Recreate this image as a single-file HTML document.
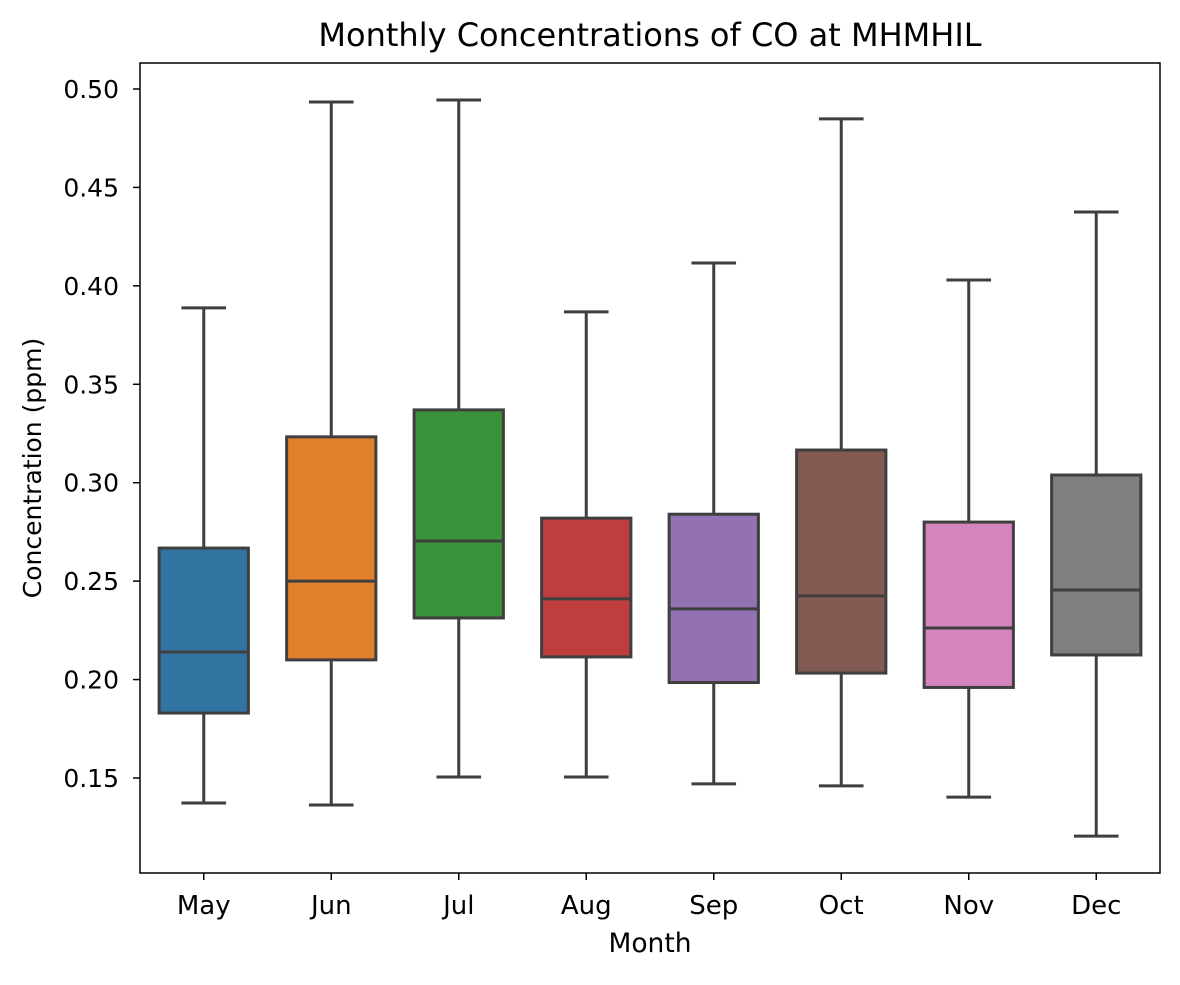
<!DOCTYPE html>
<html><head><meta charset="utf-8"><style>
body{margin:0;background:#fff;}
svg text{font-family:"DejaVu Sans","Liberation Sans",sans-serif;fill:#000;}
</style></head><body>
<svg width="1180" height="980" viewBox="0 0 1180 980">
<rect width="1180" height="980" fill="#fff"/>
<g id="marks"></g>
<rect x="140" y="63" width="1020" height="810" fill="none" stroke="#000" stroke-width="1.5"/>
<g id="axes"></g>
<text x="650" y="46" font-size="32" text-anchor="middle">Monthly Concentrations of CO at MHMHIL</text>
<text x="650" y="952" font-size="26.5" text-anchor="middle">Month</text>
<text transform="translate(41,468) rotate(-90)" font-size="25" text-anchor="middle">Concentration (ppm)</text>
</svg>
<script>
const months=["May","Jun","Jul","Aug","Sep","Oct","Nov","Dec"];
const whiskerLow=[0.1373,0.1363,0.1505,0.1505,0.147,0.146,0.1403,0.1205];
const q1=[0.183,0.210,0.2313,0.2115,0.1985,0.2033,0.196,0.2125];
const median=[0.214,0.250,0.2704,0.241,0.2359,0.2425,0.2262,0.2455];
const q3=[0.2668,0.3233,0.337,0.282,0.284,0.3166,0.280,0.3039];
const whiskerHigh=[0.3888,0.4934,0.4944,0.3868,0.4116,0.4848,0.403,0.4375];
const yTicks=[0.15,0.20,0.25,0.30,0.35,0.40,0.45,0.50];
const colors=["#3274a1","#e1812c","#3a923a","#c03d3e","#9372b2","#845b53","#d684bd","#7f7f7f"];
const NS="http://www.w3.org/2000/svg";
function yScale(v){return 778-(v-0.15)*(689/0.35);}
function xScale(i){return 140+1020/months.length*(i+0.5);}
const marks=document.getElementById('marks'),axes=document.getElementById('axes');
function mk(tag,attrs,parent){const e=document.createElementNS(NS,tag);for(const k in attrs)e.setAttribute(k,attrs[k]);parent.appendChild(e);return e;}
const bw=1020/months.length*0.7,cw=bw/2,lc="#3f3f3f",lw=3;
months.forEach((m,i)=>{
  const cx=xScale(i);
  const g=mk('g',{},marks);
  
  
  const w1=mk('line',{x1:cx,x2:cx,y1:yScale(whiskerLow[i]),y2:yScale(q1[i]),stroke:lc,'stroke-width':lw},g);
  
  
  const w2=mk('line',{x1:cx,x2:cx,y1:yScale(q3[i]),y2:yScale(whiskerHigh[i]),stroke:lc,'stroke-width':lw},g);
  
  
  const c1=mk('line',{x1:cx-cw/2,x2:cx+cw/2,y1:yScale(whiskerLow[i]),y2:yScale(whiskerLow[i]),stroke:lc,'stroke-width':lw},g);
  
  
  const c2=mk('line',{x1:cx-cw/2,x2:cx+cw/2,y1:yScale(whiskerHigh[i]),y2:yScale(whiskerHigh[i]),stroke:lc,'stroke-width':lw},g);
  
  
  const r=mk('rect',{x:cx-bw/2,y:yScale(q3[i]),width:bw,height:yScale(q1[i])-yScale(q3[i]),fill:colors[i],stroke:lc,'stroke-width':lw},g);
  
  
  const md=mk('line',{x1:cx-bw/2,x2:cx+bw/2,y1:yScale(median[i]),y2:yScale(median[i]),stroke:lc,'stroke-width':lw},g);
  
  
  const t=mk('line',{x1:cx,x2:cx,y1:873,y2:880,stroke:'#000','stroke-width':1.5},axes);
  
  
  const lb=mk('text',{x:cx,y:914,'font-size':26,'text-anchor':'middle'},axes);
  lb.textContent=m;
  
  
});
yTicks.forEach(v=>{
  const y=yScale(v);
  const t=mk('line',{x1:133,x2:140,y1:y,y2:y,stroke:'#000','stroke-width':1.5},axes);
  
  
  const lb=mk('text',{x:119,y:y+9,'font-size':25,'text-anchor':'end'},axes);
  lb.textContent=v.toFixed(2);
  
  
});
</script>
</body></html>
